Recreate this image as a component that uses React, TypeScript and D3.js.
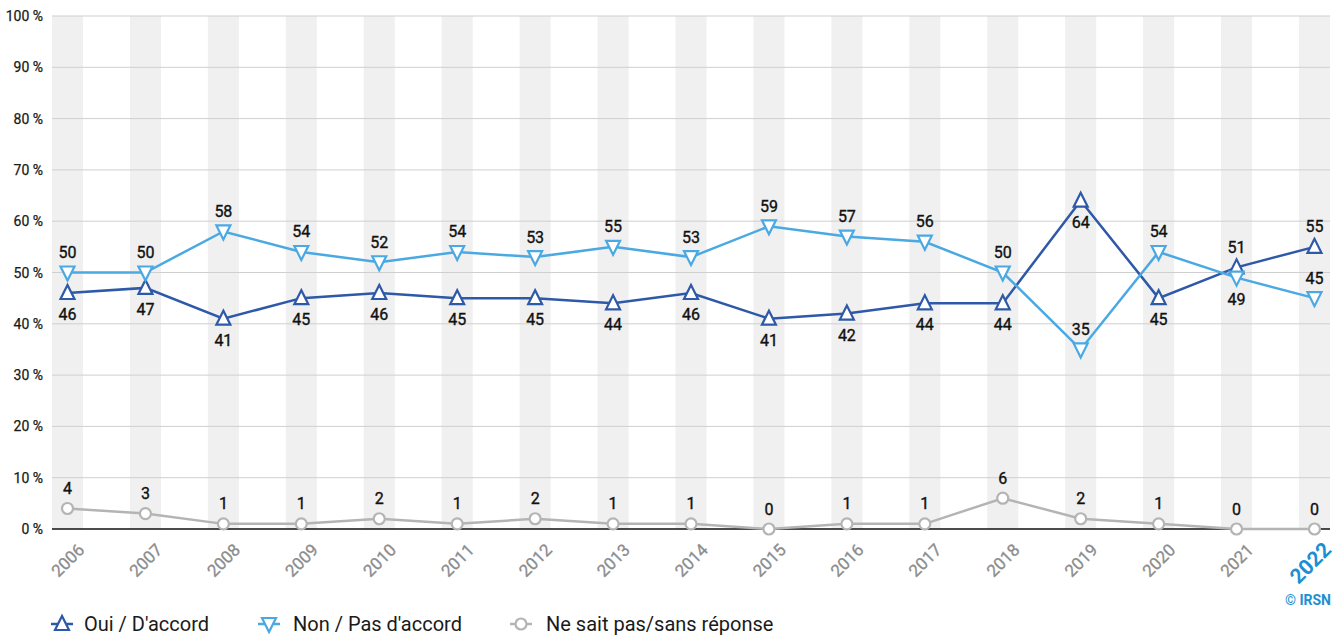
import React from "react";
import * as d3 from "d3";

const years = ["2006","2007","2008","2009","2010","2011","2012","2013","2014","2015","2016","2017","2018","2019","2020","2021","2022"];
const oui = [46,47,41,45,46,45,45,44,46,41,42,44,44,64,45,51,55];
const non = [50,50,58,54,52,54,53,55,53,59,57,56,50,35,54,49,45];
const nsp = [4,3,1,1,2,1,2,1,1,0,1,1,6,2,1,0,0];
// label placement: 1 = above, -1 = below
const ouiLabelPos = [-1,-1,-1,-1,-1,-1,-1,-1,-1,-1,-1,-1,-1,-1,-1,1,1];
const nonLabelPos = [1,1,1,1,1,1,1,1,1,1,1,1,1,1,1,-1,1];
const nspLabelPos = [1,1,1,1,1,1,1,1,1,1,1,1,1,1,1,1,1];
const yTicks = [0,10,20,30,40,50,60,70,80,90,100];
const seriesNames = ["Oui / D'accord", "Non / Pas d'accord", "Ne sait pas/sans réponse"];

const W = 1344, H = 635;
const plotL = 52, plotR = 1330, plotT = 16, plotB = 529;
const bandW = 31;
const FONT = "Roboto, 'Noto Sans', sans-serif";
const C_OUI = "#2e58a8";
const C_NON = "#4aa9e2";
const C_NSP = "#b4b4b4";

const x = d3.scalePoint<string>().domain(years).range([plotL + bandW / 2, plotR - bandW / 2]);
const y = d3.scaleLinear().domain([0, 100]).range([plotB, plotT]);

function Marker({ kind, cx, cy, color }: { kind: string; cx: number; cy: number; color: string }) {
  if (kind === "circle") {
    return <circle cx={cx} cy={cy} r={5.5} fill="#fff" stroke={color} strokeWidth={2.2} />;
  }
  const s = 7;
  const h = s * 1.0;
  const pts = kind === "up"
    ? [[cx, cy - h - 1], [cx - s, cy + h - 1], [cx + s, cy + h - 1]]
    : [[cx, cy + h + 1], [cx - s, cy - h + 1], [cx + s, cy - h + 1]];
  return <polygon points={pts.map(p => p.join(",")).join(" ")} fill="#fff" stroke={color} strokeWidth={2.2} strokeLinejoin="miter" />;
}

export default function App() {
  const line = d3.line<number>().x((_, i) => x(years[i])!).y(d => y(d));
  const series = [
    { vals: oui, color: C_OUI, kind: "up", pos: ouiLabelPos },
    { vals: non, color: C_NON, kind: "down", pos: nonLabelPos },
    { vals: nsp, color: C_NSP, kind: "circle", pos: nspLabelPos },
  ];
  const drawOrder = [2, 0, 1];
  return (
    <svg width={W} height={H} style={{ position: "absolute", left: 0, top: 0, background: "#fff" }} fontFamily={FONT}>
      {years.map(yr => (
        <rect key={yr} x={x(yr)! - bandW / 2} y={plotT} width={bandW} height={plotB - plotT} fill="#f0f0f0" />
      ))}
      {yTicks.map(t => (
        <g key={t}>
          {t !== 0 && <line x1={plotL} x2={plotR} y1={y(t)} y2={y(t)} stroke="#cfcfcf" strokeWidth={1} />}
          <text x={43} y={y(t) + 5} textAnchor="end" fontSize={14} fill="#1a1a1a" stroke="#1a1a1a" strokeWidth={0.25}>{t} %</text>
        </g>
      ))}
      <line x1={plotL} x2={plotR} y1={plotB} y2={plotB} stroke="#111" strokeWidth={1.5} />
      {years.map((yr, i) => {
        const last = i === years.length - 1;
        const ax = x(yr)! + 18;
        const ay = plotB + 22;
        return (
          <text key={yr} transform={`translate(${ax},${ay}) rotate(-45)`} textAnchor="end"
            fontSize={last ? 21 : 17} fontWeight={last ? 700 : 400} fill={last ? "#1b8fd2" : "#8c8c8c"}
            stroke={last ? "none" : "#8c8c8c"} strokeWidth={0.3}>{yr}</text>
        );
      })}
      {drawOrder.map(si => {
        const s = series[si];
        return (
          <g key={si}>
            <path d={line(s.vals)!} fill="none" stroke={s.color} strokeWidth={2.5} />
            {s.vals.map((v, i) => (
              <Marker key={i} kind={s.kind} cx={x(years[i])!} cy={y(v)} color={s.color} />
            ))}
          </g>
        );
      })}
      {series.map((s, si) => (
        <g key={"l" + si}>
          {s.vals.map((v, i) => (
            <text key={i} x={x(years[i])!} y={s.pos[i] > 0 ? y(v) - 14.5 : y(v) + 27} textAnchor="middle"
              fontSize={16} fontWeight={400} fill="#111" stroke="#111" strokeWidth={0.35}>{v}</text>
          ))}
        </g>
      ))}
      <text x={1331} y={605} textAnchor="end" fontSize={14} fontWeight={700} fill="#1b8fd2">© IRSN</text>
      {[{ mx: 62, tx: 84 }, { mx: 269, tx: 293 }, { mx: 521, tx: 546 }].map((p, i) => (
        <g key={"lg" + i}>
          <line x1={p.mx - 11} x2={p.mx + 11} y1={624} y2={624} stroke={series[i].color} strokeWidth={2.5} />
          <Marker kind={series[i].kind} cx={p.mx} cy={624} color={series[i].color} />
          <text x={p.tx} y={631} fontSize={20} fill="#1a1a1a">{seriesNames[i]}</text>
        </g>
      ))}
    </svg>
  );
}
